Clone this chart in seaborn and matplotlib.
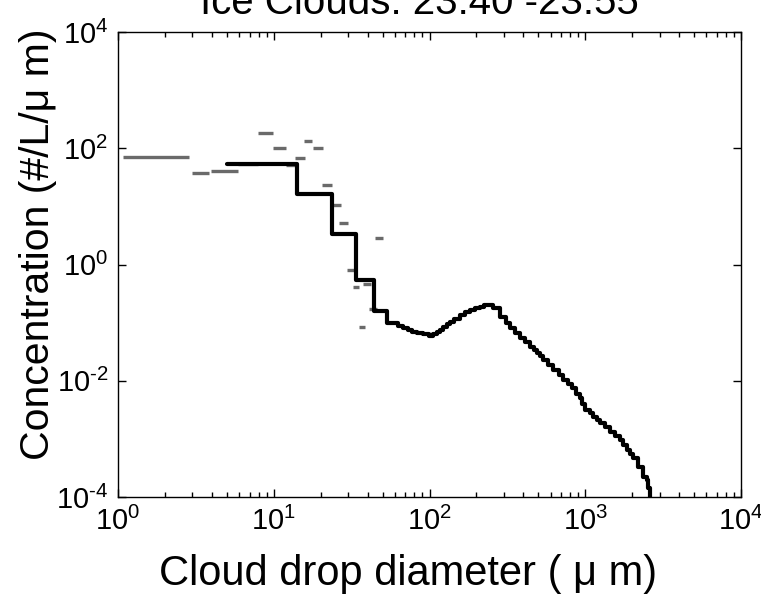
import numpy as np
import matplotlib
matplotlib.use("Agg")
import matplotlib.pyplot as plt
import seaborn as sns
import pandas as pd

# Black stair curve (bin start diameter in um, concentration #/L/um)
diam_black = [5.0, 14.0, 23.8, 33.7, 44.0, 53.6, 63.1, 67.6, 73.1, 77.6, 82.8, 91.2,
              99.8, 104.7, 111.2, 117.5, 122.7, 128.8, 135.5, 144.5, 157.0, 169.8,
              182.0, 195.0, 210.9, 223.9, 238.8, 257.0, 283.8, 309.0, 328.9, 354.8,
              381.1, 407.4, 441.6, 467.7, 487.5, 512.9, 538.3, 575.4, 623.7, 676.1,
              722.8, 776.2, 818.5, 871.0, 924.7, 955.0, 1000, 1072, 1127, 1189, 1245,
              1349, 1442, 1549, 1671, 1758, 1845, 1950, 2037, 2193, 2360, 2477, 2541, 2606]
conc_black = [53, 16.2, 3.3, 0.54, 0.158, 0.0973, 0.0871, 0.0794, 0.0746, 0.0692, 0.0655,
              0.0631, 0.0589, 0.0631, 0.0698, 0.0759, 0.0830, 0.0933, 0.1038, 0.1175,
              0.1352, 0.1514, 0.1648, 0.1778, 0.1879, 0.2009, 0.2009, 0.1762, 0.1265,
              0.100, 0.0798, 0.0661, 0.0537, 0.0457, 0.0385, 0.0339, 0.0296, 0.0263,
              0.0228, 0.0186, 0.0153, 0.0126, 0.0103, 0.00871, 0.00741, 0.00603,
              0.00498, 0.00398, 0.00316, 0.00275, 0.00241, 0.00209, 0.00185, 0.00158,
              0.00133, 0.00112, 0.000957, 0.000794, 0.000644, 0.000550, 0.000462,
              0.000333, 0.000224, 0.000196, 0.000141, 0.0000794]

# Gray bin segments: start, end, concentration
gray_start = [1.07, 3.0, 3.96, 5.9, 7.96, 9.84, 11.9, 13.7, 15.6, 17.8, 20.5, 23.3,
              26.4, 29.4, 32.4, 37.6, 41.0, 35.4, 44.9]
gray_end = [2.87, 3.86, 5.89, 7.96, 9.84, 11.9, 13.7, 15.9, 17.6, 20.8, 23.8, 26.9,
            30.0, 32.8, 35.4, 41.9, 46.2, 38.7, 50.1]
gray_conc = [70.7, 38, 40.6, 53, 185, 100, 51.5, 67, 133, 100, 23, 10.5, 5.2, 0.81,
             0.415, 0.47, 0.17, 0.085, 2.86]

x_ticks = [1, 10, 100, 1000, 10000]
x_tick_labels = ["0", "1", "2", "3", "4"]
y_ticks = [1e-4, 1e-2, 1e0, 1e2, 1e4]
y_tick_labels = ["-4", "-2", "0", "2", "4"]

title = "Ice Clouds: 23.40 -23.55"
xlabel = "Cloud drop diameter ( \u03bc m)"
ylabel = "Concentration (#/L/\u03bc m)"

sns.set_style("white")
plt.rcParams['font.family'] = ['Liberation Sans', 'DejaVu Sans']
plt.rcParams['mathtext.fontset'] = 'custom'
plt.rcParams['mathtext.rm'] = 'Liberation Sans'
plt.rcParams['mathtext.it'] = 'Liberation Sans'
plt.rcParams['axes.unicode_minus'] = False
for k in ['text.color', 'axes.labelcolor', 'xtick.color', 'ytick.color']:
    plt.rcParams[k] = 'black'


def fmt(e):
    if e.startswith('-'):
        return "$\\mathregular{10^{\\text{-}%s}}$" % e[1:]
    return "$\\mathregular{10^{%s}}$" % e


fig = plt.figure(figsize=(7.61, 5.96), dpi=100)
ax = fig.add_axes([118/761, 1-497/596, (741-118)/761, (497-32)/596])

ax.hlines(gray_conc, gray_start, gray_end, colors='#6a6a6a', linewidth=2.4, zorder=2)

df = pd.DataFrame({"d": diam_black, "c": conc_black})
sns.lineplot(data=df, x="d", y="c", ax=ax, color='black', linewidth=3.0,
             drawstyle='steps-post', sort=False, zorder=3)

ax.set_xscale('log')
ax.set_yscale('log')
ax.set_xlim(1, 1e4)
ax.set_ylim(1e-4, 1e4)
ax.set_yticks(y_ticks)
ax.set_yticklabels([fmt(s) for s in y_tick_labels])
ax.yaxis.set_minor_locator(matplotlib.ticker.NullLocator())
ax.set_xticks(x_ticks)
ax.set_xticklabels([fmt(s) for s in x_tick_labels])
ax.xaxis.set_minor_locator(matplotlib.ticker.LogLocator(base=10, subs=np.arange(2, 10)))

ax.tick_params(which='both', direction='in', top=True, right=True, bottom=True, left=True,
               labelsize=21, width=1.0, color='black', labelcolor='black')
ax.tick_params(which='major', length=6)
ax.tick_params(which='minor', length=3.5)
ax.tick_params(axis='x', pad=7)
ax.tick_params(axis='y', pad=7)
for s in ax.spines.values():
    s.set_color('black')
    s.set_linewidth(1.0)

ax.set_xlabel(xlabel, fontsize=30, color='black')
ax.xaxis.label.set_va('baseline')
ax.xaxis.set_label_coords((408-118)/623, (497-585)/465)
ax.set_ylabel(ylabel, fontsize=29.5, color='black')
ax.yaxis.label.set_va('baseline')
ax.yaxis.set_label_coords((118-49)/-623, (497-244)/465)
fig.text(419/761, 1-14/596, title, fontsize=29, ha='center', va='baseline', color='black')

fig.savefig("out.png", dpi=100)
